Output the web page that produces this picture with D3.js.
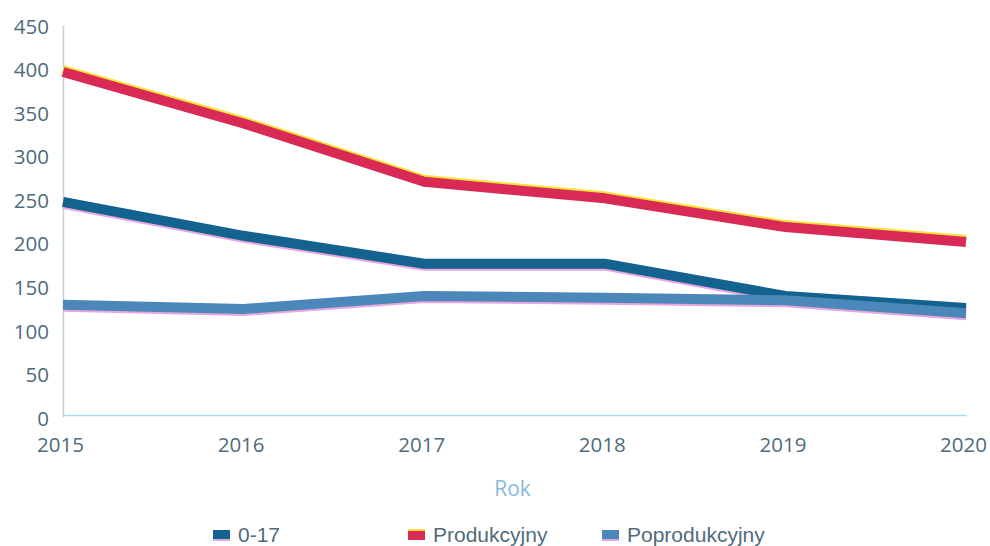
<!DOCTYPE html>
<html>
<head>
<meta charset="utf-8">
<script src="https://cdn.jsdelivr.net/npm/d3@7"></script>
<style>
  body { margin: 0; background: #fff; }
  svg { display: block; }
</style>
</head>
<body>
<div id="chart"></div>
<script>
// data
const years = [2015, 2016, 2017, 2018, 2019, 2020];
const kids = [247, 208, 176, 176, 139, 125];        // 0-17
const working = [396, 337, 270, 251, 218, 201];     // Produkcyjny
const retired = [129, 124, 139, 137, 134, 119];     // Poprodukcyjny
const yTicks = [0, 50, 100, 150, 200, 250, 300, 350, 400, 450];
const seriesNames = ["0-17", "Produkcyjny", "Poprodukcyjny"];

const W = 990, H = 546;
const margin = {top: 25, right: 24, bottom: 129, left: 63};
const width = W - margin.left - margin.right;
const height = H - margin.top - margin.bottom;

const svg = d3.select("#chart").append("svg")
    .attr("width", W)
    .attr("height", H)
    .append("g")
    .attr("transform", "translate(" + margin.left + "," + margin.top + ")");

const x = d3.scaleLinear().domain([2015, 2020]).range([0, width]);
const y = d3.scaleLinear().domain([0, 450]).range([height, 0]);

const tickColor = "#4f6b7c";
const font = "'Open Sans', 'Noto Sans', sans-serif";

// y axis
const yAxis = svg.append("g").call(d3.axisLeft(y).tickValues(yTicks).tickSize(0).tickPadding(14));
yAxis.select(".domain").attr("stroke", "#c3cfdc").attr("stroke-width", 1.5);
yAxis.selectAll("text")
    .attr("font-family", font).attr("font-size", 20.5).attr("fill", tickColor)
    .attr("dy", "0.4em");

// x axis
const xAxis = svg.append("g")
    .attr("transform", "translate(0," + (height - 2) + ")")
    .call(d3.axisBottom(x).tickValues(years).tickFormat(d3.format("d")).tickSize(0).tickPadding(22));
xAxis.select(".domain").attr("stroke", "#a9dcef").attr("stroke-width", 1.5);
xAxis.selectAll("text")
    .attr("font-family", font).attr("font-size", 20.5).attr("fill", tickColor)
    .attr("dx", -3);

// axis title
svg.append("text")
    .attr("x", width / 2 - 2)
    .attr("y", height + 79)
    .attr("text-anchor", "middle")
    .attr("font-family", font).attr("font-size", 21)
    .attr("fill", "#86b9d8")
    .text("Rok");

// lines
const series = [
  {name: seriesNames[0], values: kids, color: "#13628f", glow: "#e8a6df", off: 3},
  {name: seriesNames[1], values: working, color: "#d92a55", glow: "#f5e23a", off: -3},
  {name: seriesNames[2], values: retired, color: "#4b87b9", glow: "#e8a6df", off: 3}
];

const line = d3.line()
    .x((d, i) => x(years[i]))
    .y(d => y(d));

series.forEach(s => {
  svg.append("path")
      .datum(s.values)
      .attr("transform", "translate(0," + s.off + ")")
      .attr("d", line)
      .attr("fill", "none")
      .attr("stroke", s.glow)
      .attr("stroke-width", 8)
      .attr("stroke-linejoin", "round");
  svg.append("path")
      .datum(s.values)
      .attr("d", line)
      .attr("fill", "none")
      .attr("stroke", s.color)
      .attr("stroke-width", 10)
      .attr("stroke-linejoin", "round");
});

// legend
const legendX = [213, 408, 602];
const legend = d3.select("svg").append("g");
series.forEach((s, i) => {
  const g = legend.append("g").attr("transform", "translate(" + legendX[i] + ",535)");
  g.append("rect").attr("x", 0).attr("y", -5).attr("width", 17).attr("height", 10).attr("fill", s.color);
  g.append("rect").attr("x", 0).attr("y", i == 1 ? -6 : 4).attr("width", 17).attr("height", 2).attr("fill", s.glow);
  g.append("text")
      .attr("x", 25).attr("y", 0).attr("dy", "0.35em")
      .attr("font-family", "'Liberation Sans Narrow', 'Liberation Sans', sans-serif")
      .attr("font-size", 21)
      .attr("fill", tickColor)
      .text(s.name);
});
</script>
</body>
</html>
